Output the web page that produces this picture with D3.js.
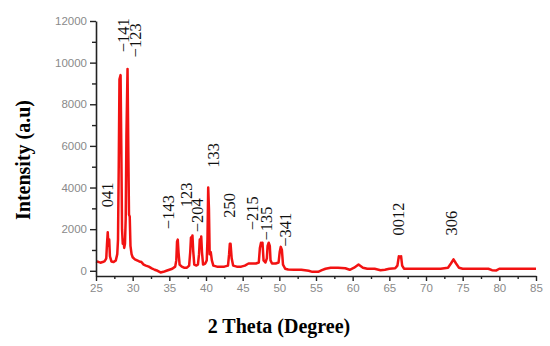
<!DOCTYPE html>
<html>
<head>
<meta charset="utf-8">
<script src="https://cdn.jsdelivr.net/npm/d3@7"></script>
<style>
  body { margin: 0; background: #fff; }
  svg { display: block; }
</style>
</head>
<body>
<div id="chart"></div>
<script>
// 2-theta positions and intensities
const twoTheta = [
  25.0, 25.3, 25.6, 25.9, 26.2, 26.4, 26.5, 26.6, 26.7, 26.8, 26.9, 27.1, 27.4, 27.7, 27.9,
  28.0, 28.1, 28.2, 28.35, 28.45, 28.55, 28.65, 28.75, 28.85, 28.95, 29.05, 29.15, 29.3, 29.4,
  29.5, 29.6, 29.7, 29.85, 30.0, 30.3, 30.6, 30.9, 31.2, 31.5, 31.8, 32.2, 32.6, 33.0, 33.4,
  33.8, 34.2, 34.6, 35.0, 35.4, 35.8, 35.95, 36.05, 36.15, 36.25, 36.4, 36.7, 37.0, 37.4, 37.7,
  37.85, 37.95, 38.05, 38.15, 38.25, 38.4, 38.7, 38.9, 39.05, 39.15, 39.25, 39.35, 39.45, 39.6,
  39.9, 40.1, 40.2, 40.3, 40.4, 40.5, 40.65, 40.8, 41.0, 41.5, 42.0, 42.5, 43.0, 43.15, 43.25,
  43.35, 43.5, 43.7, 44.2, 44.8, 45.3, 45.8, 46.3, 46.8, 47.2, 47.35, 47.5, 47.6, 47.7, 47.85,
  48.1, 48.3, 48.4, 48.55, 48.7, 48.8, 49.0, 49.5, 49.9, 50.05, 50.2, 50.35, 50.5, 50.8, 51.2,
  52.0, 53.0, 54.0, 54.5, 55.3, 55.8, 56.3, 57.0, 58.0, 59.0, 59.6, 60.2, 60.8, 61.4, 62.0,
  63.0, 63.8, 64.4, 65.0, 65.8, 66.1, 66.3, 66.45, 66.6, 66.75, 67.0, 68.0, 70.0, 72.0, 73.0,
  73.4, 73.75, 74.1, 74.5, 75.0, 77.0, 78.5, 79.0, 79.6, 80.0, 81.0, 83.0, 85.0
];
const intensity = [
  450, 430, 390, 420, 470, 600, 1300, 1850, 1200, 1500, 700, 450, 420, 500, 800,
  1500, 5000, 9200, 9400, 6000, 2000, 1300, 1500, 1100, 1300, 2500, 6500, 9700, 6000,
  2700, 2600, 1200, 800, 650, 550, 500, 450, 420, 300, 250, 200, 120, 50, 0,
  -80, -50, 0, 50, 100, 200, 500, 1400, 1500, 900, 300, 200, 150, 150, 250,
  900, 1600, 1200, 1700, 1000, 300, 250, 300, 800, 1500, 1200, 1650, 900, 300,
  350, 500, 1500, 4000, 3000, 800, 900, 500, 250, 200, 200, 200, 250, 800, 1300,
  1300, 600, 250, 200, 200, 250, 350, 350, 350, 400, 1100, 1350, 1250, 1350, 500,
  400, 600, 1200, 1350, 1200, 500, 350, 350, 400, 900, 1150, 1000, 300, 100, 60,
  50, 50, 0, -50, -50, 30, 100, 150, 150, 120, 50, 150, 300, 150, 100,
  100, 30, 50, 100, 120, 250, 700, 650, 700, 250, 100, 100, 100, 100, 150,
  350, 550, 350, 150, 100, 100, 100, 30, 20, 100, 100, 100, 100
];

// Miller index labels
const peakLabels = ['041', '\u2212141', '\u2212123', '\u2212143', '123', '\u2212204', '133', '250', '\u2212215', '\u2212135', '\u2212341', '0012', '306'];
const labelTheta = [26.5, 28.7, 30.4, 34.8, 37.3, 38.8, 41.0, 43.2, 46.3, 48.2, 50.8, 66.2, 73.5];
const labelBase = [3050, 10500, 10250, 2000, 3050, 1850, 4950, 2550, 1950, 1450, 1150, 1700, 1700];

const xTicks = d3.range(25, 86, 5);
const yTicks = d3.range(0, 12001, 2000);

const width = 550, height = 346;
const svg = d3.select('#chart').append('svg')
  .attr('width', width)
  .attr('height', height);

const x = d3.scaleLinear().domain([25, 85]).range([96, 536]);
const y = d3.scaleLinear().domain([-250, 12000]).range([276, 21]);

const data = twoTheta.map((t, i) => ({ t, v: intensity[i] }));

// pattern
svg.append('path')
  .datum(data)
  .attr('fill', 'none')
  .attr('stroke', '#f21212')
  .attr('stroke-width', 2.5)
  .attr('stroke-linejoin', 'round')
  .attr('d', d3.line().x(d => x(d.t)).y(d => y(d.v)));

// y axis
const yAxis = svg.append('g')
  .attr('transform', `translate(${x(25)},0)`)
  .call(d3.axisLeft(y).tickValues(yTicks).tickFormat(d3.format('d')).tickSize(6).tickPadding(3).tickSizeOuter(0));
yAxis.append('g')
  .call(d3.axisLeft(y).tickValues(d3.range(1000, 12000, 2000)).tickSize(4).tickFormat('').tickSizeOuter(0))
  .select('.domain').remove();

// x axis
const xAxis = svg.append('g')
  .attr('transform', `translate(0,${y.range()[0]})`)
  .call(d3.axisBottom(x).tickValues(xTicks).tickSize(5).tickPadding(3).tickSizeOuter(0));
xAxis.append('g')
  .call(d3.axisBottom(x).tickValues(d3.range(27.5, 85, 5)).tickSize(3).tickFormat('').tickSizeOuter(0))
  .select('.domain').remove();

svg.selectAll('.domain').attr('stroke', '#222').attr('stroke-width', 1.6);
svg.selectAll('.tick line').attr('stroke', '#222').attr('stroke-width', 1.4);
svg.selectAll('.tick text')
  .attr('fill', '#8a8a8a')
  .style('font-family', '"Liberation Sans", Arial, sans-serif')
  .style('font-size', '11.5px');

// peak labels
svg.append('g').selectAll('text')
  .data(peakLabels)
  .join('text')
  .attr('transform', (d, i) => `translate(${x(labelTheta[i])},${y(labelBase[i])}) rotate(-90)`)
  .attr('text-anchor', 'start')
  .attr('dy', '0.35em')
  .style('font-family', '"Liberation Serif", "Times New Roman", serif')
  .style('font-size', '16.5px')
  .attr('fill', '#111')
  .text(d => d);

// axis titles
svg.append('text')
  .attr('transform', 'translate(23,160) rotate(-90)')
  .attr('text-anchor', 'middle')
  .attr('dy', '0.35em')
  .style('font-family', '"Liberation Serif", "Times New Roman", serif')
  .style('font-size', '20px')
  .style('font-weight', 'bold')
  .text('Intensity (a.u)');

svg.append('text')
  .attr('x', 279)
  .attr('y', 333)
  .attr('text-anchor', 'middle')
  .style('font-family', '"Liberation Serif", "Times New Roman", serif')
  .style('font-size', '20px')
  .style('font-weight', 'bold')
  .text('2 Theta (Degree)');
</script>
</body>
</html>
